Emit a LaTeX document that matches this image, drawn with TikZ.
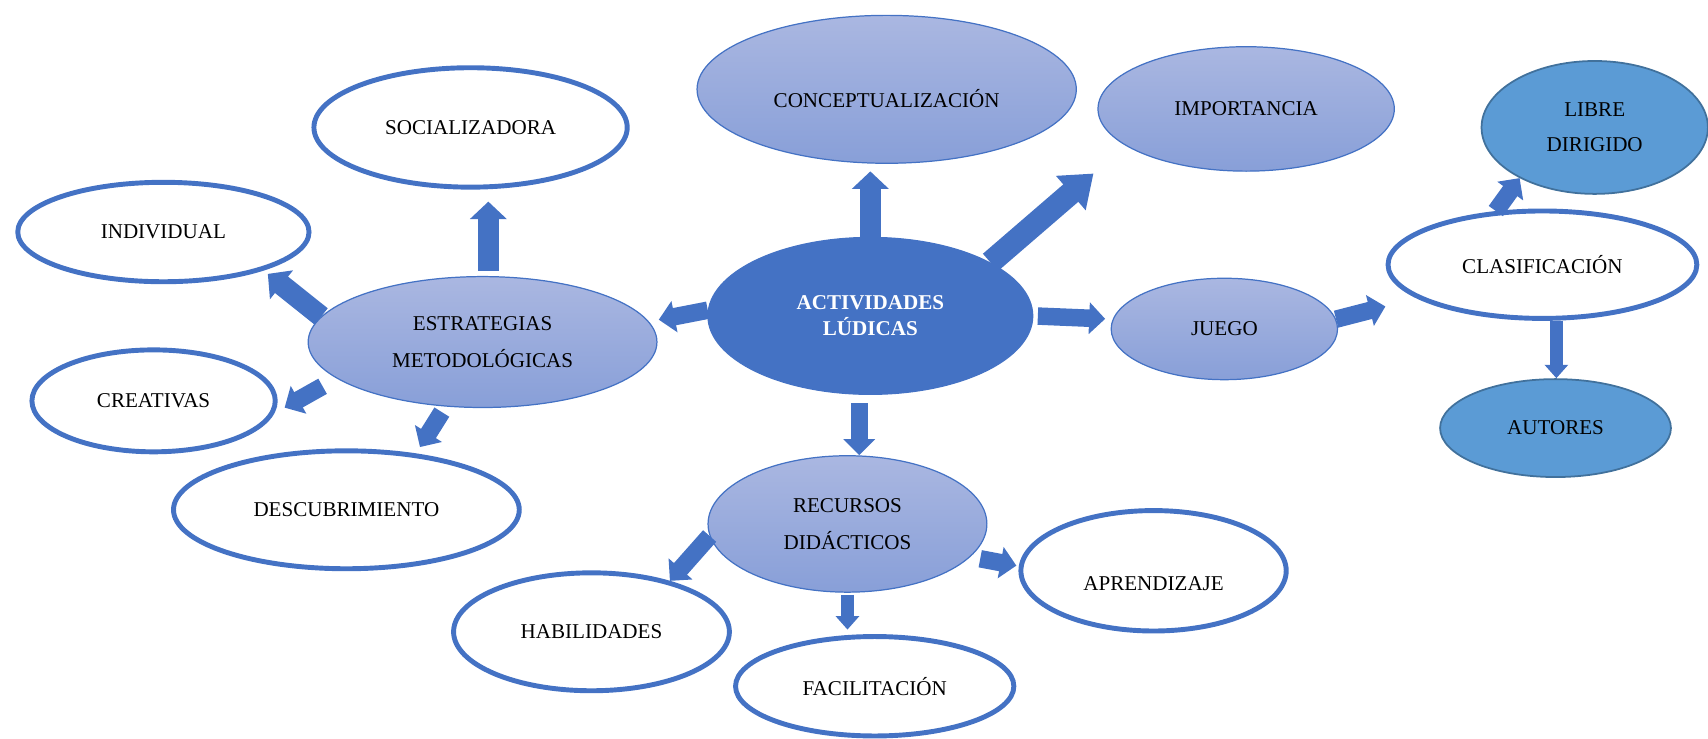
\documentclass[tikz,border=0pt]{standalone}
\usepackage{fontspec}
\setmainfont{Liberation Serif}
\usetikzlibrary{shapes.geometric, arrows.meta}

\definecolor{azul}{RGB}{68,114,196}
\definecolor{celesteclaro}{RGB}{91,155,213}
\definecolor{bordeceleste}{RGB}{65,113,156}
\definecolor{degsup}{RGB}{170,183,225}
\definecolor{deginf}{RGB}{136,159,216}

\begin{document}
\begin{tikzpicture}[x=0.218mm, y=-0.218mm, font=\fontsize{12}{14}\selectfont,
	elipse/.style = {ellipse, inner sep=0pt, align=center},
	blanco/.style = {elipse, draw=azul, line width=2.8pt, fill=white},
	degradado/.style = {elipse, draw=azul, line width=0.7pt, top color=degsup, bottom color=deginf},
	central/.style = {elipse, draw=azul, line width=0.7pt, fill=azul, text=white, font=\fontsize{12}{14}\selectfont\bfseries},
	nodoceleste/.style = {elipse, draw=bordeceleste, line width=1pt, fill=celesteclaro},
	flechaXL/.style = {azul, line width=4.6mm, -{Triangle[width=8.7mm, length=6mm]}},
	flechaG/.style = {azul, line width=4.2mm, -{Triangle[width=7.2mm, length=3.5mm]}},
	flechaM/.style = {azul, line width=3.5mm, -{Triangle[width=6.2mm, length=3.2mm]}},
	flechaP/.style = {azul, line width=2.7mm, -{Triangle[width=4.6mm, length=2.7mm]}}]

		\useasboundingbox (0,0) rectangle (1568,678);

		\node[degradado, minimum width=75.9mm, minimum height=29.6mm, text height=7.2mm] (concepto) at (814,82) {CONCEPTUALIZACIÓN};
		\node[degradado, minimum width=59.3mm, minimum height=24.9mm] (importancia) at (1144,100) {IMPORTANCIA};
		\node[nodoceleste, minimum width=45.3mm, minimum height=26.6mm] (libre) at (1464,117) {LIBRE\\[6pt]DIRIGIDO};
		\node[blanco, minimum width=61.8mm, minimum height=21.5mm] (clasif) at (1416,243) {CLASIFICACIÓN};
		\node[nodoceleste, minimum width=46.2mm, minimum height=19.6mm] (autores) at (1428,393) {AUTORES};
		\node[degradado, minimum width=45.3mm, minimum height=20.3mm] (juego) at (1124,302) {JUEGO};
		\node[central, minimum width=65mm, minimum height=31.4mm] (act) at (799,290) {ACTIVIDADES\\[1pt]LÚDICAS};
		\node[degradado, minimum width=69.8mm, minimum height=26.2mm] (estr) at (443,314) {ESTRATEGIAS\\[7pt]METODOLÓGICAS};
		\node[blanco, minimum width=62.7mm, minimum height=23.9mm] (social) at (432,117) {SOCIALIZADORA};
		\node[blanco, minimum width=58.3mm, minimum height=19.9mm] (indiv) at (150,213) {INDIVIDUAL};
		\node[blanco, minimum width=48.7mm, minimum height=20.4mm] (creat) at (141,368) {CREATIVAS};
		\node[blanco, minimum width=69.2mm, minimum height=23.6mm] (desc) at (318,468) {DESCUBRIMIENTO};
		\node[degradado, minimum width=55.8mm, minimum height=27.3mm] (recursos) at (778,481) {RECURSOS\\[7pt]DIDÁCTICOS};
		\node[blanco, minimum width=55.2mm, minimum height=23.6mm] (habil) at (543,580) {HABILIDADES};
		\node[blanco, minimum width=55.7mm, minimum height=19.9mm] (facil) at (803,630) {FACILITACIÓN};
		\node[blanco, minimum width=53.1mm, minimum height=24.1mm, text height=8mm] (aprend) at (1059,524) {APRENDIZAJE};

		\draw[flechaG, shorten >=1.5mm] (act.north) -- (act.north |- concepto.south);
		\draw[flechaXL, shorten >=8.5mm] (act.24) -- (importancia.197);
		\draw[flechaM, shorten <=0.9mm, shorten >=1.5mm] (act.east) -- (juego.175);
		\draw[flechaM, shorten >=2mm] (act.178) -- (estr.7);
		\draw[flechaM, shorten <=1.7mm] (act.262) -- (act.262 |- recursos.north);
		\draw[flechaG, shorten <=1.1mm, shorten >=2.4mm] (estr.85) -- (estr.85 |- social.south);
		\draw[flechaG, shorten >=1.1mm] (estr.171) -- (indiv.339);
		\draw[flechaM, shorten <=3.2mm, shorten >=2.4mm] (estr.194) -- (creat.354);
		\draw[flechaM, shorten <=1.3mm, shorten >=1.5mm] (estr.240) -- (desc.39);
		\draw[flechaM, shorten >=6.5mm] (juego.5) -- (clasif.195);
		\draw[flechaM] (clasif.131) -- (libre.214);
		\draw[flechaP] (clasif.284) -- (clasif.284 |- autores.north);
		\draw[flechaM] (recursos.185) -- (habil.33);
		\draw[flechaP, shorten <=0.4mm, shorten >=0.9mm] (recursos.south) -- (recursos.south |- facil.north);
		\draw[flechaM, shorten <=2mm, shorten >=0.5mm] (recursos.345) -- (aprend.178);
	\end{tikzpicture}
\end{document}
